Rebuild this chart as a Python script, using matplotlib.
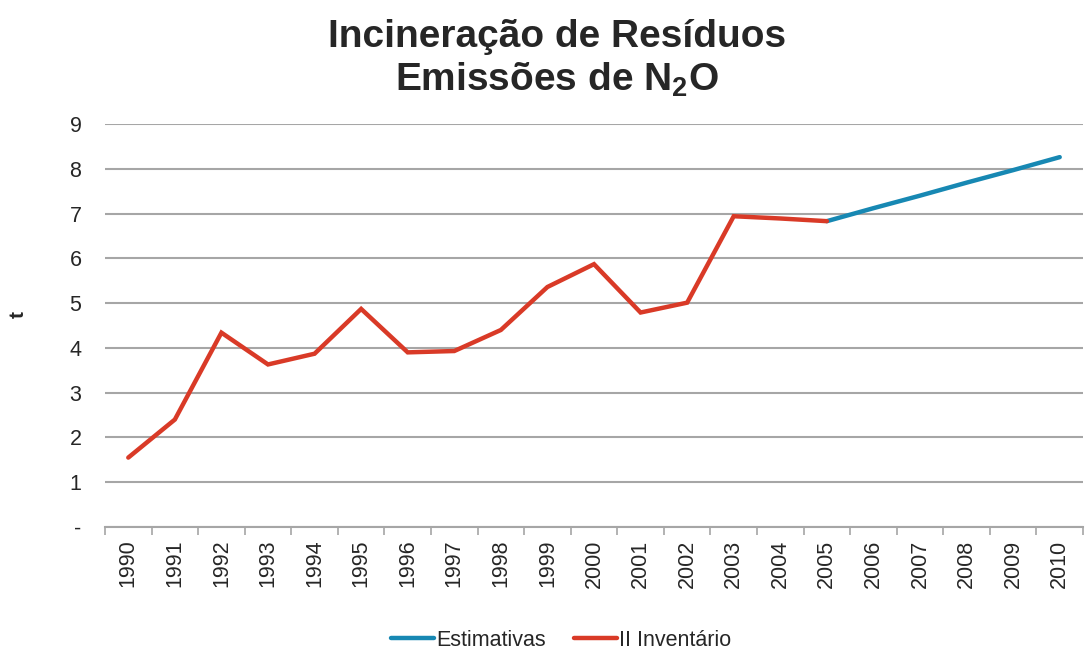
import numpy as np
import matplotlib.pyplot as plt

plt.rcParams['font.family'] = ['Liberation Sans', 'DejaVu Sans']
plt.rcParams['mathtext.fontset'] = 'custom'
plt.rcParams['mathtext.rm'] = 'Liberation Sans'
plt.rcParams['mathtext.bf'] = 'Liberation Sans:bold'

years = [str(y) for y in range(1990, 2011)]

# II Inventário, 1990-2005 (t)
inventario = [1.55, 2.40, 4.34, 3.63, 3.87, 4.87, 3.90, 3.93, 4.40, 5.36,
              5.87, 4.79, 5.01, 6.94, 6.89, 6.83]
# Estimativas, 2005-2010 (t)
estimativas = [6.83, 7.12, 7.40, 7.69, 7.97, 8.26]

y_labels = ['-', '1', '2', '3', '4', '5', '6', '7', '8', '9']

red = '#d93a27'
blue = '#1788b3'
grid = '#a6a6a6'
text_color = '#262626'

fig = plt.figure(figsize=(10.85, 6.51), dpi=100)
ax = fig.add_axes([105 / 1085, 1 - 527 / 651, 978 / 1085, 403 / 651])

x = np.arange(len(years))
ax.plot(x[15:], estimativas, color=blue, lw=3.2, solid_capstyle='round',
        label='Estimativas', zorder=3)
ax.plot(x[:16], inventario, color=red, lw=3.2, solid_capstyle='round',
        solid_joinstyle='miter', label='II Inventário', zorder=3)

ax.set_xlim(-0.5, len(years) - 0.5)
ax.set_ylim(0, 9)
ax.set_yticks(range(10))
ax.set_yticklabels(y_labels)
ax.set_xticks(x)
ax.set_xticklabels(years, rotation=90)
ax.set_xticks(np.arange(-0.5, len(years), 1), minor=True)

ax.tick_params(axis='x', which='major', length=0, pad=9, labelsize=15.5,
               labelcolor=text_color)
ax.tick_params(axis='x', which='minor', length=6, width=1.2, color=grid)
ax.tick_params(axis='y', length=0, pad=17, labelsize=15.5, labelcolor=text_color)

ax.yaxis.grid(True, color=grid, lw=1.5)
ax.set_axisbelow(True)
for side in ['top', 'right', 'left']:
    ax.spines[side].set_visible(False)
ax.spines['bottom'].set_color(grid)
ax.spines['bottom'].set_linewidth(1.5)

# axis unit label
fig.text(18 / 1085, 1 - 315 / 651, 't', rotation=90, ha='center', va='center',
         fontsize=15, fontweight='bold', color=text_color)

fig.text(557 / 1085, 1 - 37 / 651, 'Incineração de Resíduos', ha='center',
         va='center', fontsize=28, fontweight='bold', color=text_color)
fig.text(557 / 1085, 1 - 80 / 651, r'Emissões de N$_\mathbf{2}$O', ha='center',
         va='center', fontsize=28, fontweight='bold', color=text_color)

fig.legend(loc='center', bbox_to_anchor=(561 / 1085, 1 - 640 / 651), ncol=2,
           frameon=False, fontsize=15.5, handlelength=2.0, handletextpad=0.1,
           columnspacing=1.3, labelcolor=text_color)

fig.savefig('out.png', dpi=100)
